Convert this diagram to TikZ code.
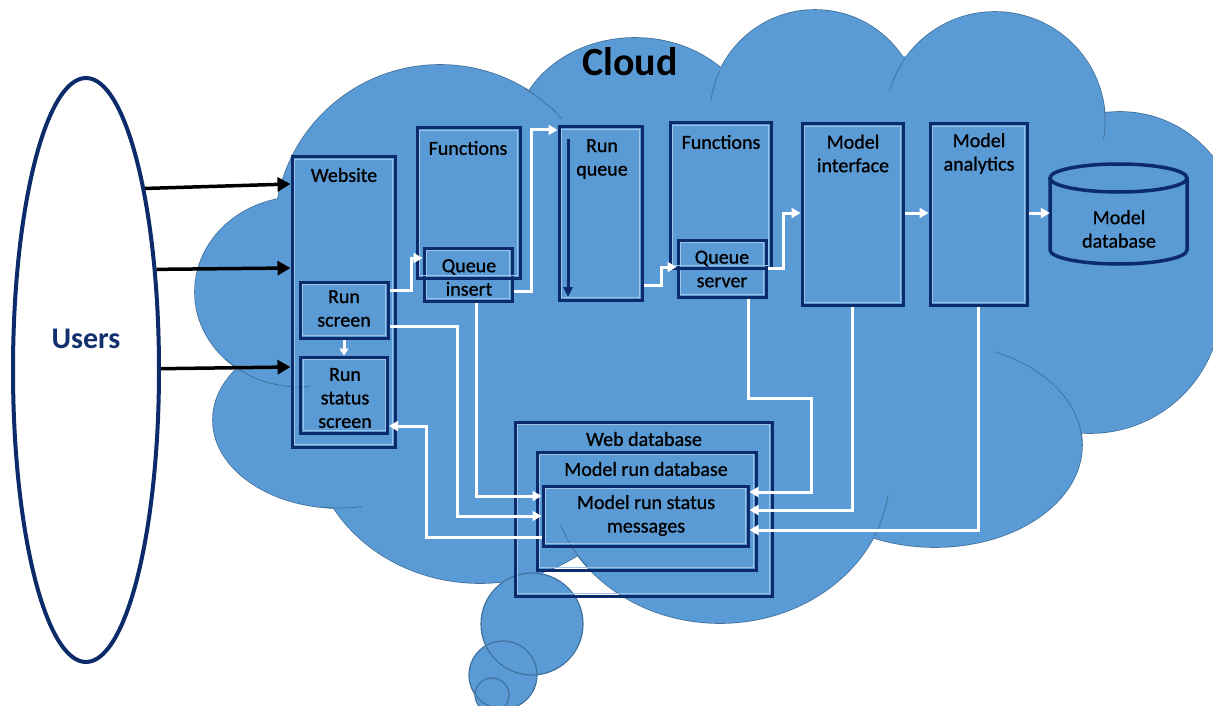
\documentclass[tikz,border=0pt]{standalone}
\usepackage{fontspec}
\setmainfont{Carlito}
\newfontfamily\lblfont{Carlito}[FakeBold=0.9]
\usetikzlibrary{arrows.meta,shapes.geometric}
\definecolor{navy}{HTML}{0B2B6A}
\definecolor{cloudfill}{HTML}{5B9BD5}
\definecolor{cloudline}{HTML}{41719C}
\definecolor{innerline}{HTML}{9DC3E6}
\definecolor{usersblue}{HTML}{13306E}
\begin{document}
\begin{tikzpicture}[x=1pt,y=-1pt,
  bx/.style 2 args={draw=navy, line width=3pt, inner sep=0pt, minimum width=#1, minimum height=#2,
     path picture={\draw[innerline, line width=0.7pt] ([xshift=2.4pt,yshift=-2.4pt]path picture bounding box.north west) rectangle ([xshift=-2.4pt,yshift=2.4pt]path picture bounding box.south east);}},
  lbl/.style={font=\lblfont\fontsize{20}{23.5}\selectfont, align=center, inner sep=0pt, text=black},
  wa/.style={draw=white, line width=3pt, -{Triangle[length=9pt,width=10pt]}},
  ba/.style={draw=black, line width=3.5pt, -{Triangle[length=13pt,width=14pt]}},
  faint/.style={draw=cloudline, line width=0.8pt}]
\useasboundingbox (0,0) rectangle (1213,706);
\clip (0,0) rectangle (1213,706);

% ---------- cloud ----------
\foreach \cx/\cy/\rx/\ry in {440/230/165/165, 635/138/120/100, 815/115/105/105, 995/122/110/110,
   1120/230/118/118, 1090/302/131/131, 935/445/147/102, 720/473/170/150, 480/430/170/153,
   340/420/127/88, 300/292/105/95}
  \draw[cloudline, line width=1.6pt] (\cx,\cy) ellipse[x radius=\rx, y radius=\ry];
\foreach \cx/\cy/\rx/\ry in {440/230/165/165, 635/138/120/100, 815/115/105/105, 995/122/110/110,
   1120/230/118/118, 1090/302/131/131, 935/445/147/102, 720/473/170/150, 480/430/170/153,
   340/420/127/88, 300/292/105/95}
  \fill[cloudfill] (\cx,\cy) ellipse[x radius=\rx, y radius=\ry];
\fill[cloudfill] (283,213) -- (230,362) -- (330,507) -- (583,550) -- (870,530) -- (1075,430)
   -- (1213,337) -- (1213,200) -- (1100,115) -- (900,55) -- (720,76) -- (524,94) -- cycle;
% faint inner arcs
\begin{scope}\clip (524,84) rectangle (562,122); \draw[faint] (440,230) circle[radius=165];\end{scope}
\begin{scope}\clip (700,72) rectangle (725,100); \draw[faint] (815,115) circle[radius=105];\end{scope}
\begin{scope}\clip (878,50) rectangle (905,90); \draw[faint] (995,122) circle[radius=110];\end{scope}
\begin{scope}\clip (1095,112) rectangle (1110,140); \draw[faint] (995,122) circle[radius=110];\end{scope}
\begin{scope}\clip (226,355) rectangle (310,395); \draw[faint] (300,292) ellipse[x radius=105, y radius=95];\end{scope}
\begin{scope}\clip (322,495) rectangle (362,515); \draw[faint] (340,420) ellipse[x radius=127, y radius=88];\end{scope}
\begin{scope}\clip (995,325) rectangle (1085,440); \draw[faint] (935,445) ellipse[x radius=147, y radius=102];\end{scope}
\begin{scope}\clip (862,495) rectangle (890,535); \draw[faint] (720,473) ellipse[x radius=170, y radius=150];\end{scope}
\begin{scope}\clip (555,525) rectangle (590,570); \draw[faint] (720,473) ellipse[x radius=170, y radius=150];\end{scope}
% thought bubbles
\foreach \cx/\cy/\r in {532/624/51, 503/675/34, 492/695/17}
  \fill[cloudfill] (\cx,\cy) circle[radius=\r];
\foreach \cx/\cy/\r in {532/624/51, 503/675/34, 492/695/17}
  \draw[cloudline, line width=1.2pt] (\cx,\cy) circle[radius=\r];

% ---------- users ----------
\node[ellipse, draw=navy, line width=4pt, minimum width=146pt, minimum height=584pt, inner sep=0pt] (users) at (86,370) {};
\node[font=\fontsize{30}{36}\selectfont\bfseries, text=usersblue, inner sep=0pt] (usersl) at (86,339) {Users};

% ---------- boxes ----------
\node[bx={103pt}{290pt}] (ws) at (343.5,302) {};
\node[bx={88pt}{56pt}] (rs) at (344,310) {};
\node[bx={87pt}{76pt}] (rss) at (344,395) {};
\node[bx={88pt}{53pt}] (qi) at (468,274.5) {};
\node[bx={103pt}{150pt}] (f1) at (468.5,203) {};
\node[bx={83pt}{173pt}] (rq) at (600.5,213.5) {};
\node[bx={88pt}{57pt}] (qs) at (722,268.5) {};
\node[bx={101pt}{145pt}] (f2) at (720.5,195.5) {};
\node[bx={101pt}{181pt}] (mi) at (852.5,214.5) {};
\node[bx={97pt}{181pt}] (ma) at (978.5,214.5) {};
\node[bx={257pt}{174pt}] (wdb) at (643.5,509) {};
\node[bx={219pt}{118pt}] (mrd) at (646.5,511) {};
\node[bx={205pt}{60pt}] (mrs) at (645.5,516) {};
% model database cylinder
\node[inner sep=0pt, minimum width=137pt, minimum height=100pt] (mdb) at (1118.5,214) {};
\draw[navy, line width=3.5pt] (1050,178) -- (1050,250) arc[start angle=180, end angle=0, x radius=68.5, y radius=14] -- (1187,178);
\draw[navy, line width=3.5pt] (1118.5,178) ellipse[x radius=68.5, y radius=14];

% run queue inner arrow
\draw[navy, line width=3pt, -{Triangle[length=10pt,width=9pt]}] ([xshift=-32.5pt,yshift=-14pt]rq.north) -- ([xshift=-32.5pt,yshift=4.5pt]rq.south);

% ---------- labels ----------
\node[lbl] (wsl) at (344,175) {Website};
\node[lbl] (rsl) at (344,308.5) {Run\\screen};
\node[lbl] (rssl) at (345,398) {Run\\status\\screen};
\node[lbl] (f1l) at (468,148) {Functions};
\node[lbl] (qil) at (469,277.5) {Queue\\insert};
\node[lbl] (rql) at (602,159) {Run\\queue};
\node[lbl] (f2l) at (721,142) {Functions};
\node[lbl] (qsl) at (722,269) {Queue\\server};
\node[lbl] (mil) at (853,153.5) {Model\\interface};
\node[lbl] (mal) at (979,153.5) {Model\\analytics};
\node[lbl] (mdbl) at (1119,229) {Model\\database};
\node[lbl] (wdbl) at (644,439) {Web database};
\node[lbl] (mrdl) at (646,469) {Model run database};
\node[lbl] (mrsl) at (646,515.5) {Model run status\\messages};
\node[font=\fontsize{40}{48}\selectfont\bfseries, inner sep=0pt] (cloudl) at (630,62) {Cloud};

% ---------- connectors ----------
\draw[ba] (users.72.6) -- ([yshift=118pt]ws.west);
\draw[ba] (users.55.5) -- ([yshift=34pt]ws.west);
\draw[ba] (users.1.6) -- ([yshift=-65pt]ws.west);

\draw[wa] ([yshift=20pt]rs.east) -- ++(22,0) |- ([yshift=16.5pt]qi.west);
\draw[wa] ([yshift=-16.5pt]qi.east) -- ++(18,0) |- ([yshift=83.5pt]rq.west);
\draw[wa] ([yshift=-71.5pt]rq.east) -- ++(18,0) |- ([yshift=1.5pt]qs.west);
\draw[wa] ([yshift=0.5pt]qs.east) -- ++(16,0) |- ([yshift=1.5pt]mi.west);
\draw[wa] ([yshift=1.5pt]mi.east) -- ([yshift=1.5pt]ma.west);
\draw[wa] ([yshift=1.5pt]ma.east) -- ([yshift=1pt]mdb.west);
\draw[wa, -{Triangle[length=7pt,width=9pt]}] (rs.south) -- (rss.north);
\draw[wa] ([yshift=-16pt]rs.east) -- ++(68,0) |- (mrs.west);
\draw[wa] ([xshift=8pt]qi.south) |- ([yshift=20pt]mrs.west);
\draw[wa] ([yshift=-21pt]mrs.west) -- ++(-115,0) |- ([yshift=-31pt]rss.east);
\draw[wa] ([xshift=26pt]qs.south) |- ++(63,100) |- ([yshift=24pt]mrs.east);
\draw[wa] (mi.south) |- ([yshift=6pt]mrs.east);
\draw[wa] (ma.south) |- ([yshift=-14pt]mrs.east);
\end{tikzpicture}
\end{document}
